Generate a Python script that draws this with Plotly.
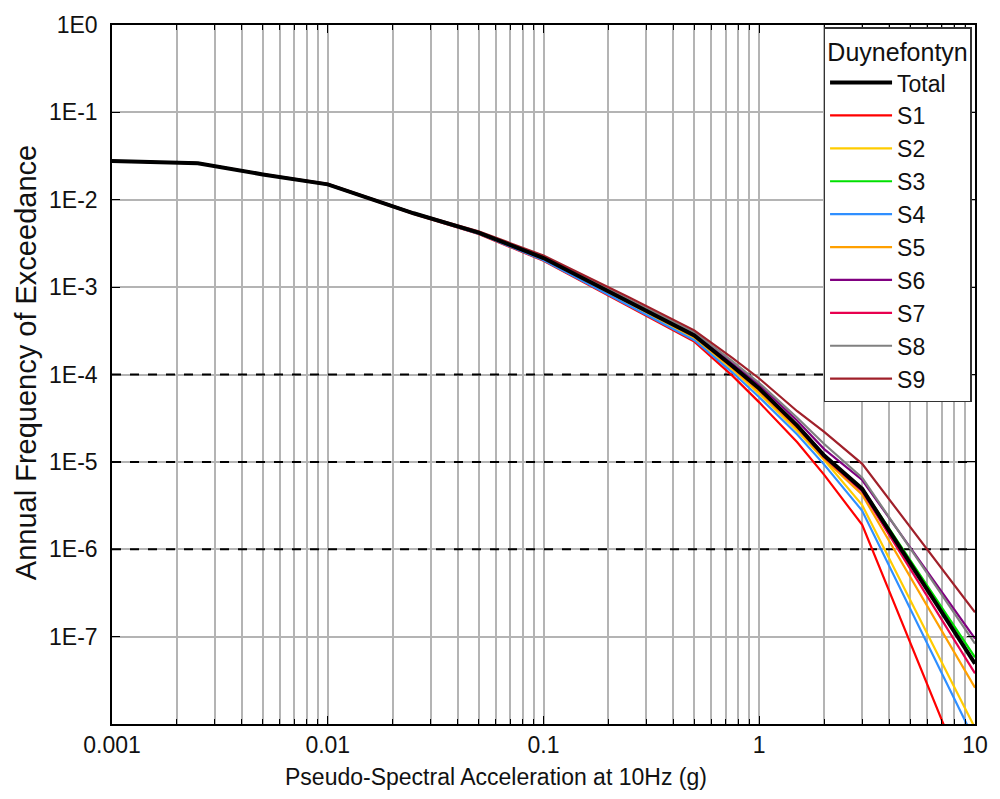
import plotly.graph_objects as go

# x values (g)
pga = [0.001, 0.0025, 0.005, 0.01, 0.025, 0.05, 0.1, 0.25, 0.5, 0.75, 1, 1.5, 2, 3, 10]

total = [2.77e-2, 2.62e-2, 1.95e-2, 1.50e-2, 7.0e-3, 4.2e-3, 2.15e-3, 6.8e-4, 2.8e-4, 1.25e-4, 6.9e-5, 2.6e-5, 1.18e-5, 4.9e-6, 4.9e-8]
s1 = [2.76e-2, 2.61e-2, 1.94e-2, 1.49e-2, 6.9e-3, 4.06e-3, 2.0e-3, 5.9e-4, 2.38e-4, 9.7e-5, 4.8e-5, 1.68e-5, 7.1e-6, 1.9e-6, 1.3e-9]
s2 = [2.77e-2, 2.62e-2, 1.95e-2, 1.50e-2, 6.97e-3, 4.15e-3, 2.1e-3, 6.5e-4, 2.6e-4, 1.14e-4, 6.0e-5, 2.26e-5, 1.05e-5, 3.2e-6, 9.0e-9]
s3 = [2.77e-2, 2.62e-2, 1.95e-2, 1.50e-2, 7.02e-3, 4.22e-3, 2.16e-3, 6.85e-4, 2.83e-4, 1.27e-4, 7.0e-5, 2.65e-5, 1.2e-5, 5.0e-6, 5.8e-8]
s4 = [2.77e-2, 2.62e-2, 1.95e-2, 1.49e-2, 6.95e-3, 4.1e-3, 2.03e-3, 6.06e-4, 2.47e-4, 1.06e-4, 5.5e-5, 2.06e-5, 9.3e-6, 2.76e-6, 6.4e-9]
s5 = [2.77e-2, 2.62e-2, 1.95e-2, 1.50e-2, 6.98e-3, 4.17e-3, 2.12e-3, 6.6e-4, 2.67e-4, 1.18e-4, 6.3e-5, 2.4e-5, 1.08e-5, 4.2e-6, 2.6e-8]
s6 = [2.77e-2, 2.62e-2, 1.95e-2, 1.51e-2, 7.05e-3, 4.26e-3, 2.2e-3, 7.1e-4, 2.95e-4, 1.35e-4, 7.6e-5, 2.95e-5, 1.4e-5, 6.2e-6, 9.5e-8]
s7 = [2.77e-2, 2.62e-2, 1.95e-2, 1.50e-2, 7.0e-3, 4.19e-3, 2.14e-3, 6.75e-4, 2.76e-4, 1.22e-4, 6.7e-5, 2.5e-5, 1.13e-5, 4.6e-6, 3.8e-8]
s8 = [2.77e-2, 2.62e-2, 1.95e-2, 1.51e-2, 7.06e-3, 4.28e-3, 2.22e-3, 7.2e-4, 3.05e-4, 1.42e-4, 8.0e-5, 3.2e-5, 1.6e-5, 6.6e-6, 8.3e-8]
s9 = [2.78e-2, 2.63e-2, 1.96e-2, 1.52e-2, 7.1e-3, 4.35e-3, 2.3e-3, 7.6e-4, 3.2e-4, 1.55e-4, 9.0e-5, 3.8e-5, 2.2e-5, 9.5e-6, 1.9e-7]

series_names = ["S1", "S2", "S3", "S4", "S5", "S6", "S7", "S8", "S9"]
series_values = [s1, s2, s3, s4, s5, s6, s7, s8, s9]
series_colors = ["#ff0000", "#ffcc00", "#00e000", "#2f8fff", "#ffa000",
                 "#800080", "#e8004f", "#808080", "#a0202a"]

x_range = [0.001, 10]
x_tick_vals = [0.001, 0.01, 0.1, 1, 10]
x_tick_text = ["0.001", "0.01", "0.1", "1", "10"]
x_minor_vals = [m * 10 ** e for e in range(-3, 1) for m in range(2, 10)]
y_tick_vals = [1, 1e-1, 1e-2, 1e-3, 1e-4, 1e-5, 1e-6, 1e-7]
y_tick_text = ["1E0", "1E-1", "1E-2", "1E-3", "1E-4", "1E-5", "1E-6", "1E-7"]
dashed_levels = [1e-4, 1e-5, 1e-6]

FONT = "Liberation Sans, Arial, sans-serif"

fig = go.Figure()
# dashed reference levels (under the curves, above the grid)
for lvl in dashed_levels:
    fig.add_trace(go.Scatter(x=x_range, y=[lvl, lvl], mode="lines",
                             line=dict(color="#000000", width=2, dash="dash"),
                             showlegend=False, hoverinfo="skip"))
for i, (name, vals, col) in enumerate(zip(series_names, series_values, series_colors)):
    fig.add_trace(go.Scatter(x=pga, y=vals, mode="lines", name=name,
                             line=dict(color=col, width=2.2),
                             legendgroup=name, legendrank=10 + i))
fig.add_trace(go.Scatter(x=pga, y=total, mode="lines", name="Total",
                         line=dict(color="#000000", width=4),
                         legendgroup="Total", legendrank=1))

fig.add_annotation(text="Annual Frequency of Exceedance", textangle=-90,
                   xref="paper", yref="paper", x=-0.1002, y=0.517,
                   xanchor="center", yanchor="middle", showarrow=False,
                   font=dict(family=FONT, size=29, color="#111111"))
fig.add_annotation(text="Pseudo-Spectral Acceleration at 10Hz (g)",
                   xref="paper", yref="paper", x=0.4447, y=-0.0753,
                   xanchor="center", yanchor="middle", showarrow=False,
                   font=dict(family=FONT, size=23, color="#111111"))

fig.update_layout(
    width=1000, height=799,
    margin=dict(l=112, r=20, t=20, b=75),
    paper_bgcolor="white", plot_bgcolor="white",
    font=dict(family=FONT, size=22, color="#111111"),
    showlegend=True,
    legend=dict(
        x=0.996, xanchor="right", y=0.997, yanchor="top",
        bgcolor="white", bordercolor="#333333", borderwidth=1.5,
        font=dict(family=FONT, size=23, color="#111111"),
        title=dict(text="Duynefontyn", side="top center",
                   font=dict(family=FONT, size=25, color="#111111")),
        traceorder="grouped", tracegroupgap=0, itemwidth=62,
    ),
    xaxis=dict(
        type="log", range=[-3, 1],
        tickmode="array", tickvals=x_tick_vals, ticktext=x_tick_text,
        ticks="inside", ticklen=8, tickcolor="#000000",
        showgrid=True, gridcolor="#b4b4b4", gridwidth=1.5,
        showline=True, linecolor="#000000", linewidth=1.5, mirror="ticks",
        tickfont=dict(size=23),
        minor=dict(tickmode="array", tickvals=x_minor_vals, ticks="inside",
                   ticklen=5, tickcolor="#000000", showgrid=True,
                   gridcolor="#b4b4b4", gridwidth=1.5),
        zeroline=False,
    ),
    yaxis=dict(
        type="log", range=[-8, 0],
        tickmode="array", tickvals=y_tick_vals, ticktext=y_tick_text,
        ticks="inside", ticklen=8, tickcolor="#000000",
        showgrid=True, gridcolor="#b4b4b4", gridwidth=1.5,
        showline=True, linecolor="#000000", linewidth=1.5, mirror="ticks",
        tickfont=dict(size=23), ticklabelstandoff=8,
        zeroline=False,
    ),
)

fig.write_html("out.html")
